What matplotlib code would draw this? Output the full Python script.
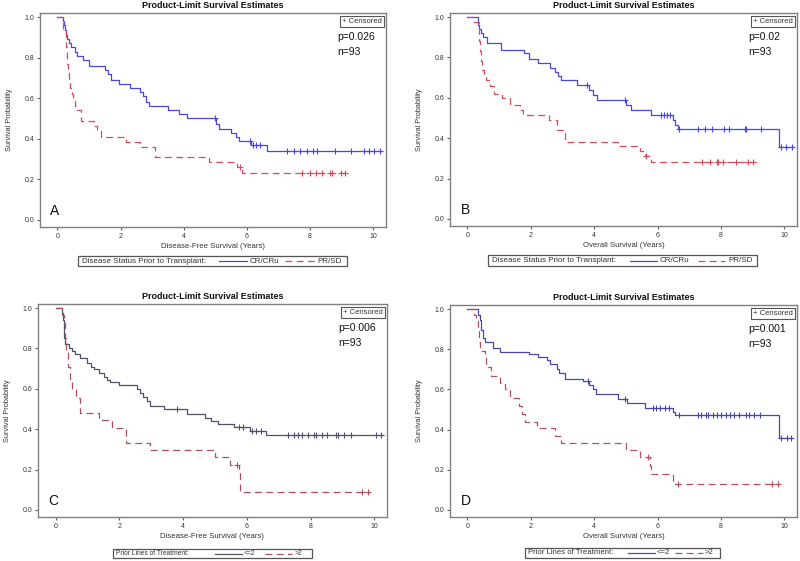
import numpy as np
import matplotlib
matplotlib.use('Agg')
import matplotlib.pyplot as plt
from matplotlib.patches import Rectangle
from matplotlib.lines import Line2D

plt.rcParams['font.family'] = ['Liberation Sans', 'DejaVu Sans']

# ---------------- data ----------------
# Panel A: Disease-free survival by disease status
a_cr_t = [0, 0.18, 0.22, 0.25, 0.28, 0.32, 0.36, 0.42, 0.55, 0.62, 0.8, 1.0, 1.5, 1.6, 1.7, 1.95,
          2.3, 2.6, 2.7, 2.8, 2.9, 3.5, 3.85, 4.1, 5.02, 5.1, 5.5, 5.65, 5.75, 6.14, 6.63]
a_cr_s = [1.0, 0.98, 0.96, 0.935, 0.91, 0.89, 0.87, 0.85, 0.83, 0.81, 0.79, 0.76, 0.74, 0.72, 0.69, 0.67,
          0.65, 0.63, 0.61, 0.58, 0.56, 0.54, 0.52, 0.50, 0.475, 0.45, 0.43, 0.41, 0.39, 0.37, 0.34]
a_cr_cens = [5.0, 6.09, 6.2, 6.3, 6.42, 7.28, 7.49, 7.68, 7.9, 8.1, 8.23, 8.8, 9.3, 9.7, 9.85, 10.03, 10.2]
a_cr_end = 10.27
a_pr_t = [0, 0.17, 0.26, 0.28, 0.3, 0.32, 0.34, 0.36, 0.38, 0.41, 0.45, 0.5, 0.56, 0.63, 0.74, 1.16,
          1.24, 1.37, 2.16, 2.63, 3.1, 4.8, 5.7, 5.85]
a_pr_s = [1.0, 0.93, 0.89, 0.85, 0.81, 0.77, 0.74, 0.71, 0.68, 0.65, 0.62, 0.59, 0.56, 0.54, 0.49, 0.465,
          0.44, 0.41, 0.385, 0.36, 0.31, 0.285, 0.26, 0.23]
a_pr_cens = [5.78, 7.74, 7.99, 8.2, 8.36, 8.63, 8.68, 8.97, 9.1]
a_pr_end = 9.18

# Panel B: Overall survival by disease status
b_cr_t = [0, 0.32, 0.36, 0.42, 0.5, 0.63, 1.05, 1.8, 1.95, 2.22, 2.61, 2.77, 2.85, 2.95, 3.47, 3.85,
          3.95, 4.08, 5.0, 5.16, 5.78, 6.5, 6.56, 6.66, 9.84]
b_cr_s = [1.0, 0.96, 0.94, 0.92, 0.9, 0.87, 0.835, 0.82, 0.79, 0.77, 0.75, 0.73, 0.71, 0.69, 0.665, 0.64,
          0.615, 0.59, 0.565, 0.539, 0.514, 0.49, 0.465, 0.443, 0.357]
b_cr_cens = [3.77, 4.98, 6.1, 6.2, 6.3, 6.4, 6.69, 7.27, 7.5, 7.71, 8.1, 8.24, 8.76, 8.8, 9.27, 9.9,
             10.05, 10.23]
b_cr_end = 10.27
b_pr_t = [0, 0.21, 0.35, 0.38, 0.41, 0.44, 0.47, 0.52, 0.6, 0.7, 0.84, 1.08, 1.35, 1.66, 1.75, 2.56,
          2.82, 3.08, 4.76, 5.45, 5.6, 5.8]
b_pr_s = [1.0, 0.975, 0.93, 0.88, 0.83, 0.78, 0.74, 0.71, 0.69, 0.66, 0.62, 0.6, 0.565, 0.54, 0.515, 0.49,
          0.44, 0.383, 0.361, 0.336, 0.31, 0.28]
b_pr_cens = [5.65, 7.4, 7.66, 7.87, 7.9, 8.05, 8.47, 8.84, 9.0]
b_pr_end = 9.1

# Panel C: Disease-free survival by prior lines of treatment
c_le2_t = [0, 0.21, 0.24, 0.26, 0.28, 0.30, 0.42, 0.52, 0.625, 0.78, 0.99, 1.1, 1.2, 1.36, 1.52, 1.62,
           1.72, 1.98, 2.57, 2.65, 2.76, 2.86, 2.97, 3.39, 4.11, 4.7, 4.87, 5.1, 5.6, 6.1, 6.6]
c_le2_s = [1.0, 0.975, 0.94, 0.90, 0.85, 0.82, 0.80, 0.786, 0.77, 0.753, 0.73, 0.71, 0.696, 0.68, 0.66,
           0.646, 0.633, 0.617, 0.60, 0.58, 0.56, 0.54, 0.515, 0.498, 0.474, 0.455, 0.44, 0.425, 0.41,
           0.39, 0.372]
c_le2_cens = [3.82, 5.75, 5.87, 6.17, 6.3, 6.44, 7.29, 7.48, 7.62, 7.74, 7.93, 8.11, 8.16, 8.37, 8.53,
              8.79, 8.85, 9.06, 9.27, 10.04, 10.22]
c_le2_end = 10.27
c_gt2_t = [0, 0.21, 0.26, 0.30, 0.33, 0.40, 0.45, 0.52, 0.63, 0.76, 1.35, 1.77, 2.2, 2.95, 5.0, 5.48,
           5.76, 5.8]
c_gt2_s = [1.0, 0.967, 0.925, 0.85, 0.78, 0.71, 0.65, 0.60, 0.556, 0.48, 0.445, 0.407, 0.333, 0.296,
           0.26, 0.222, 0.185, 0.09]
c_gt2_cens = [5.7, 9.6, 9.8]
c_gt2_end = 9.86

# Panel D: Overall survival by prior lines of treatment
d_le2_t = [0, 0.32, 0.39, 0.44, 0.49, 0.55, 0.8, 1.04, 1.94, 2.23, 2.52, 2.6, 2.83, 2.9, 3.07, 3.65,
           3.85, 3.95, 4.07, 4.75, 5.05, 5.59, 6.48, 6.56, 9.82]
d_le2_s = [1.0, 0.97, 0.945, 0.895, 0.855, 0.838, 0.805, 0.788, 0.775, 0.76, 0.747, 0.726, 0.70, 0.684,
           0.653, 0.643, 0.623, 0.60, 0.575, 0.554, 0.532, 0.507, 0.49, 0.471, 0.359]
d_le2_cens = [3.8, 4.96, 5.85, 5.96, 6.08, 6.22, 6.35, 6.69, 7.27, 7.38, 7.52, 7.6, 7.75, 7.87, 8.0,
              8.15, 8.27, 8.42, 8.58, 8.8, 8.88, 9.03, 9.22, 9.9, 10.1, 10.2]
d_le2_end = 10.25
d_gt2_t = [0, 0.21, 0.28, 0.33, 0.37, 0.39, 0.55, 0.6, 0.74, 1.04, 1.18, 1.34, 1.62, 1.72, 1.81, 2.2,
           2.76, 2.94, 5.0, 5.43, 5.76, 5.8, 6.48]
d_gt2_s = [1.0, 0.97, 0.945, 0.89, 0.835, 0.79, 0.755, 0.71, 0.665, 0.63, 0.60, 0.557, 0.516, 0.48,
           0.44, 0.408, 0.367, 0.334, 0.297, 0.263, 0.218, 0.177, 0.131]
d_gt2_cens = [5.7, 6.64, 9.6, 9.8]
d_gt2_end = 9.86

x_ticks = [0, 2, 4, 6, 8, 10]
y_ticks = [0.0, 0.2, 0.4, 0.6, 0.8, 1.0]
title = 'Product-Limit Survival Estimates'

# ---------------- drawing ----------------
W, H = 800, 561
fig = plt.figure(figsize=(8, 5.61), dpi=100)
fig.patch.set_facecolor('white')


def fx(x):
    return x / W


def fy(y):
    return 1 - y / H


def km_draw(ax, t, s, end, cens, color, dashed):
    t = np.asarray(t, float)
    s = np.asarray(s, float)
    tt = np.append(t, end)
    ss = np.append(s, s[-1])
    ls = (0, (5.5, 3.5)) if dashed else '-'
    ax.step(tt, ss, where='post', color=color, lw=0.9, linestyle=ls)
    idx = np.searchsorted(t, cens, side='right') - 1
    ax.plot(cens, s[idx], ls='none', marker='+', ms=4.5, mew=0.8, color=color)


def legend_box(box, title_txt, title_x, items, fs):
    x0, y0, x1, y1 = box
    fig.add_artist(Rectangle((fx(x0), fy(y1)), fx(x1 - x0), (y1 - y0) / H,
                             transform=fig.transFigure, fill=False, ec='#555555', lw=0.9))
    yc = fy((y0 + y1) / 2)
    fig.text(fx(title_x), yc, title_txt, fontsize=fs, color='#333333', va='center', ha='left')
    for (lx0, lx1, tx, lab, col, dashed) in items:
        ls = (0, (5.5, 3.5)) if dashed else '-'
        fig.add_artist(Line2D([fx(lx0), fx(lx1)], [yc, yc], transform=fig.transFigure,
                              color=col, lw=0.9, linestyle=ls))
        fig.text(fx(tx), yc, lab, fontsize=fs, color='#333333', va='center', ha='left')


panels = [
    dict(frame=(40, 13, 386, 227), letter='A', p='p=0.026', xlabel='Disease-Free Survival (Years)',
         curves=[(a_cr_t, a_cr_s, a_cr_end, a_cr_cens, '#4848e0', False),
                 (a_pr_t, a_pr_s, a_pr_end, a_pr_cens, '#d84a5c', True)],
         legend=dict(box=(78, 256, 347, 266), title='Disease Status Prior to Transplant:', tx=82,
                     items=[(219, 247, 250, 'CR/CRu', '#4848e0', False),
                            (285, 315, 317, 'PR/SD', '#d84a5c', True)], fs=5.8)),
    dict(frame=(450, 13, 797, 226), letter='B', p='p=0.02', xlabel='Overall Survival (Years)',
         curves=[(b_cr_t, b_cr_s, b_cr_end, b_cr_cens, '#4848e0', False),
                 (b_pr_t, b_pr_s, b_pr_end, b_pr_cens, '#d84a5c', True)],
         legend=dict(box=(488, 255, 757, 266), title='Disease Status Prior to Transplant:', tx=492,
                     items=[(630, 657, 660, 'CR/CRu', '#4848e0', False),
                            (698, 725, 728, 'PR/SD', '#d84a5c', True)], fs=5.8)),
    dict(frame=(38, 304, 387, 517), letter='C', p='p=0.006', xlabel='Disease-Free Survival (Years)',
         curves=[(c_le2_t, c_le2_s, c_le2_end, c_le2_cens, '#50506c', False),
                 (c_gt2_t, c_gt2_s, c_gt2_end, c_gt2_cens, '#a8505e', True)],
         legend=dict(box=(113, 549, 312, 558), title='Prior Lines of Treatment:', tx=116,
                     items=[(215, 242, 244, '<=2', '#50506c', False),
                            (265, 292, 295, '>2', '#a8505e', True)], fs=4.8)),
    dict(frame=(450, 305, 797, 517), letter='D', p='p=0.001', xlabel='Overall Survival (Years)',
         curves=[(d_le2_t, d_le2_s, d_le2_end, d_le2_cens, '#4848a8', False),
                 (d_gt2_t, d_gt2_s, d_gt2_end, d_gt2_cens, '#b4505e', True)],
         legend=dict(box=(525, 548, 720, 558), title='Prior Lines of Treatment:', tx=528,
                     items=[(628, 655, 657, '<=2', '#4848a8', False),
                            (675, 703, 705, '>2', '#b4505e', True)], fs=5.6)),
]

for pn in panels:
    l, t, r, b = pn['frame']
    ax = fig.add_axes([fx(l), fy(b), fx(r - l), (b - t) / H])
    for (tt, ss, end, cens, col, dashed) in pn['curves']:
        km_draw(ax, tt, ss, end, cens, col, dashed)
    ax.set_xlim(-0.55, 10.4)
    ax.set_ylim(-0.035, 1.02)
    ax.set_xticks(x_ticks)
    ax.set_xticklabels([str(v) for v in x_ticks])
    ax.set_yticks(y_ticks)
    ax.set_yticklabels(['%.1f' % v for v in y_ticks])
    for sp in ax.spines.values():
        sp.set_color('#808080')
        sp.set_linewidth(1.0)
    ax.tick_params(direction='out', length=2.5, width=0.8, color='#606060',
                   labelsize=5, labelcolor='#333333', pad=1.5)
    ax.set_title(title, fontsize=6.5, fontweight='bold', pad=3.5, color='#111111')
    ax.set_xlabel(pn['xlabel'], fontsize=5.6, color='#333333')
    ax.xaxis.set_label_coords(0.5, -0.075)
    ax.set_ylabel('Survival Probability', fontsize=5.3, color='#333333')
    ax.yaxis.set_label_coords(-0.078, 0.5)
    ax.text(0.988, 0.976, '+ Censored', transform=ax.transAxes, ha='right', va='top',
            fontsize=5.5, color='#333333',
            bbox=dict(boxstyle='square,pad=0.25', fc='white', ec='#555555', lw=0.8))
    ax.text(0.86, 0.888, pn['p'], transform=ax.transAxes, ha='left', va='center',
            fontsize=7.5, color='#111111')
    ax.text(0.86, 0.818, 'n=93', transform=ax.transAxes, ha='left', va='center',
            fontsize=7.5, color='#111111')
    ax.text(0.03, 0.075, pn['letter'], transform=ax.transAxes, ha='left', va='center',
            fontsize=10, color='#111111')
    lg = pn['legend']
    legend_box(lg['box'], lg['title'], lg['tx'], lg['items'], lg['fs'])

fig.savefig('out.png', dpi=100, facecolor='white')
